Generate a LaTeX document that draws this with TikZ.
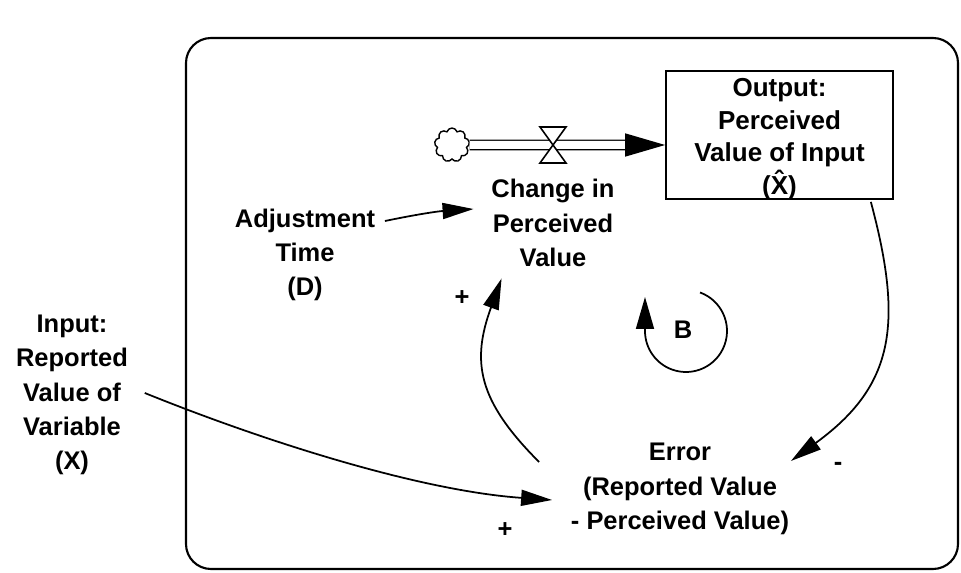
\documentclass[tikz,border=0pt]{standalone}
\usepackage{fontspec}
\setmainfont{Liberation Sans}
\usetikzlibrary{arrows.meta,calc,shapes.symbols}

\begin{document}
\begin{tikzpicture}[
  x=0.02cm, y=0.02cm,
  lbl/.style={align=center, inner sep=2pt, font=\bfseries\fontsize{14.5}{19.5}\selectfont},
  boxtxt/.style={lbl, font=\bfseries\fontsize{14.8}{18.6}\selectfont},
  outbox/.style={rectangle, draw, line width=1pt, minimum width=4.54cm, minimum height=2.56cm},
  sign/.style={font=\bfseries\fontsize{14.5}{19.5}\selectfont, inner sep=0pt},
  arr/.style={-{Triangle[length=0.62cm,width=0.32cm]}, line width=1pt},
  pipe/.style={double, double distance=0.16cm, line width=0.8pt},
  flowtip/.style={-{Triangle[length=0.8cm,width=0.46cm]}, line width=0.8pt},
  valvebox/.style={draw, fill=white, line width=0.9pt}
]
\useasboundingbox (0,0) rectangle (961,572);

% Frame
\draw[line width=1.2pt, rounded corners=0.5cm] (186,3) rectangle (958,534);

% Stock and flow
\node[outbox] (out) at (779.5,437) {};
\node[boxtxt] (outtxt) at ($(out.center)+(0,-4)$) {Output:\\Perceived\\Value of Input\\(\^{X})};
\node[cloud, draw, cloud puffs=9, line width=0.8pt, minimum width=0.7cm, minimum height=0.68cm, inner sep=0pt] (src) at (452,427) {};
\coordinate (valve) at (553,427);
\coordinate (tipbase) at ($(out.west |- src)+(-40,0)$);

\draw[pipe] (src.east) -- (tipbase);
\draw[flowtip] (tipbase) -- (out.west |- src);
\draw[valvebox] (valve) -- ++(-13,18) -- ++(26,0) -- cycle;
\draw[valvebox] (valve) -- ++(-13,-18) -- ++(26,0) -- cycle;

% Variables
\node[lbl] (change) at (553,349) {Change in\\Perceived\\Value};
\node[lbl] (adjust) at (305,317) {Adjustment\\Time\\(D)};
\node[lbl] (input) at (72,177) {Input:\\Reported\\Value of\\Variable\\(X)};
\node[lbl] (error) at (680,83) {Error\\(Reported Value\\- Perceived Value)};

% Links
\draw[arr] ($(adjust.east)+(6,34)$) to[bend left=4] ($(change.west)+(-14,14)$);
\draw[arr] ($(input.east)+(13,2)$) to[out=-22, in=176, looseness=0.8] ($(error.west)+(-15,-11)$);
\draw[arr] ($(error.west)+(-28,27)$) to[out=135, in=-110, looseness=1.2] ($(change.south west)+(14,-8)$);
\draw[arr] ($(out.south east)+(-23,-2)$) to[out=-75, in=36, looseness=1.2] ($(error.east)+(-2,28)$);

% Polarities
\node[sign] (p1) at (462,274) {+};
\node[sign] (p2) at (505,42) {+};
\node[sign] (m1) at (838,106) {-};

% Loop marker
\node[sign] (loopb) at (683,242) {B};
\draw[-{Triangle[length=0.64cm,width=0.36cm]}, line width=1pt] (loopb) ++(3,-1) ++(70:41) arc[start angle=70, end angle=-180, radius=41] -- ++(0,34);

\end{tikzpicture}
\end{document}
